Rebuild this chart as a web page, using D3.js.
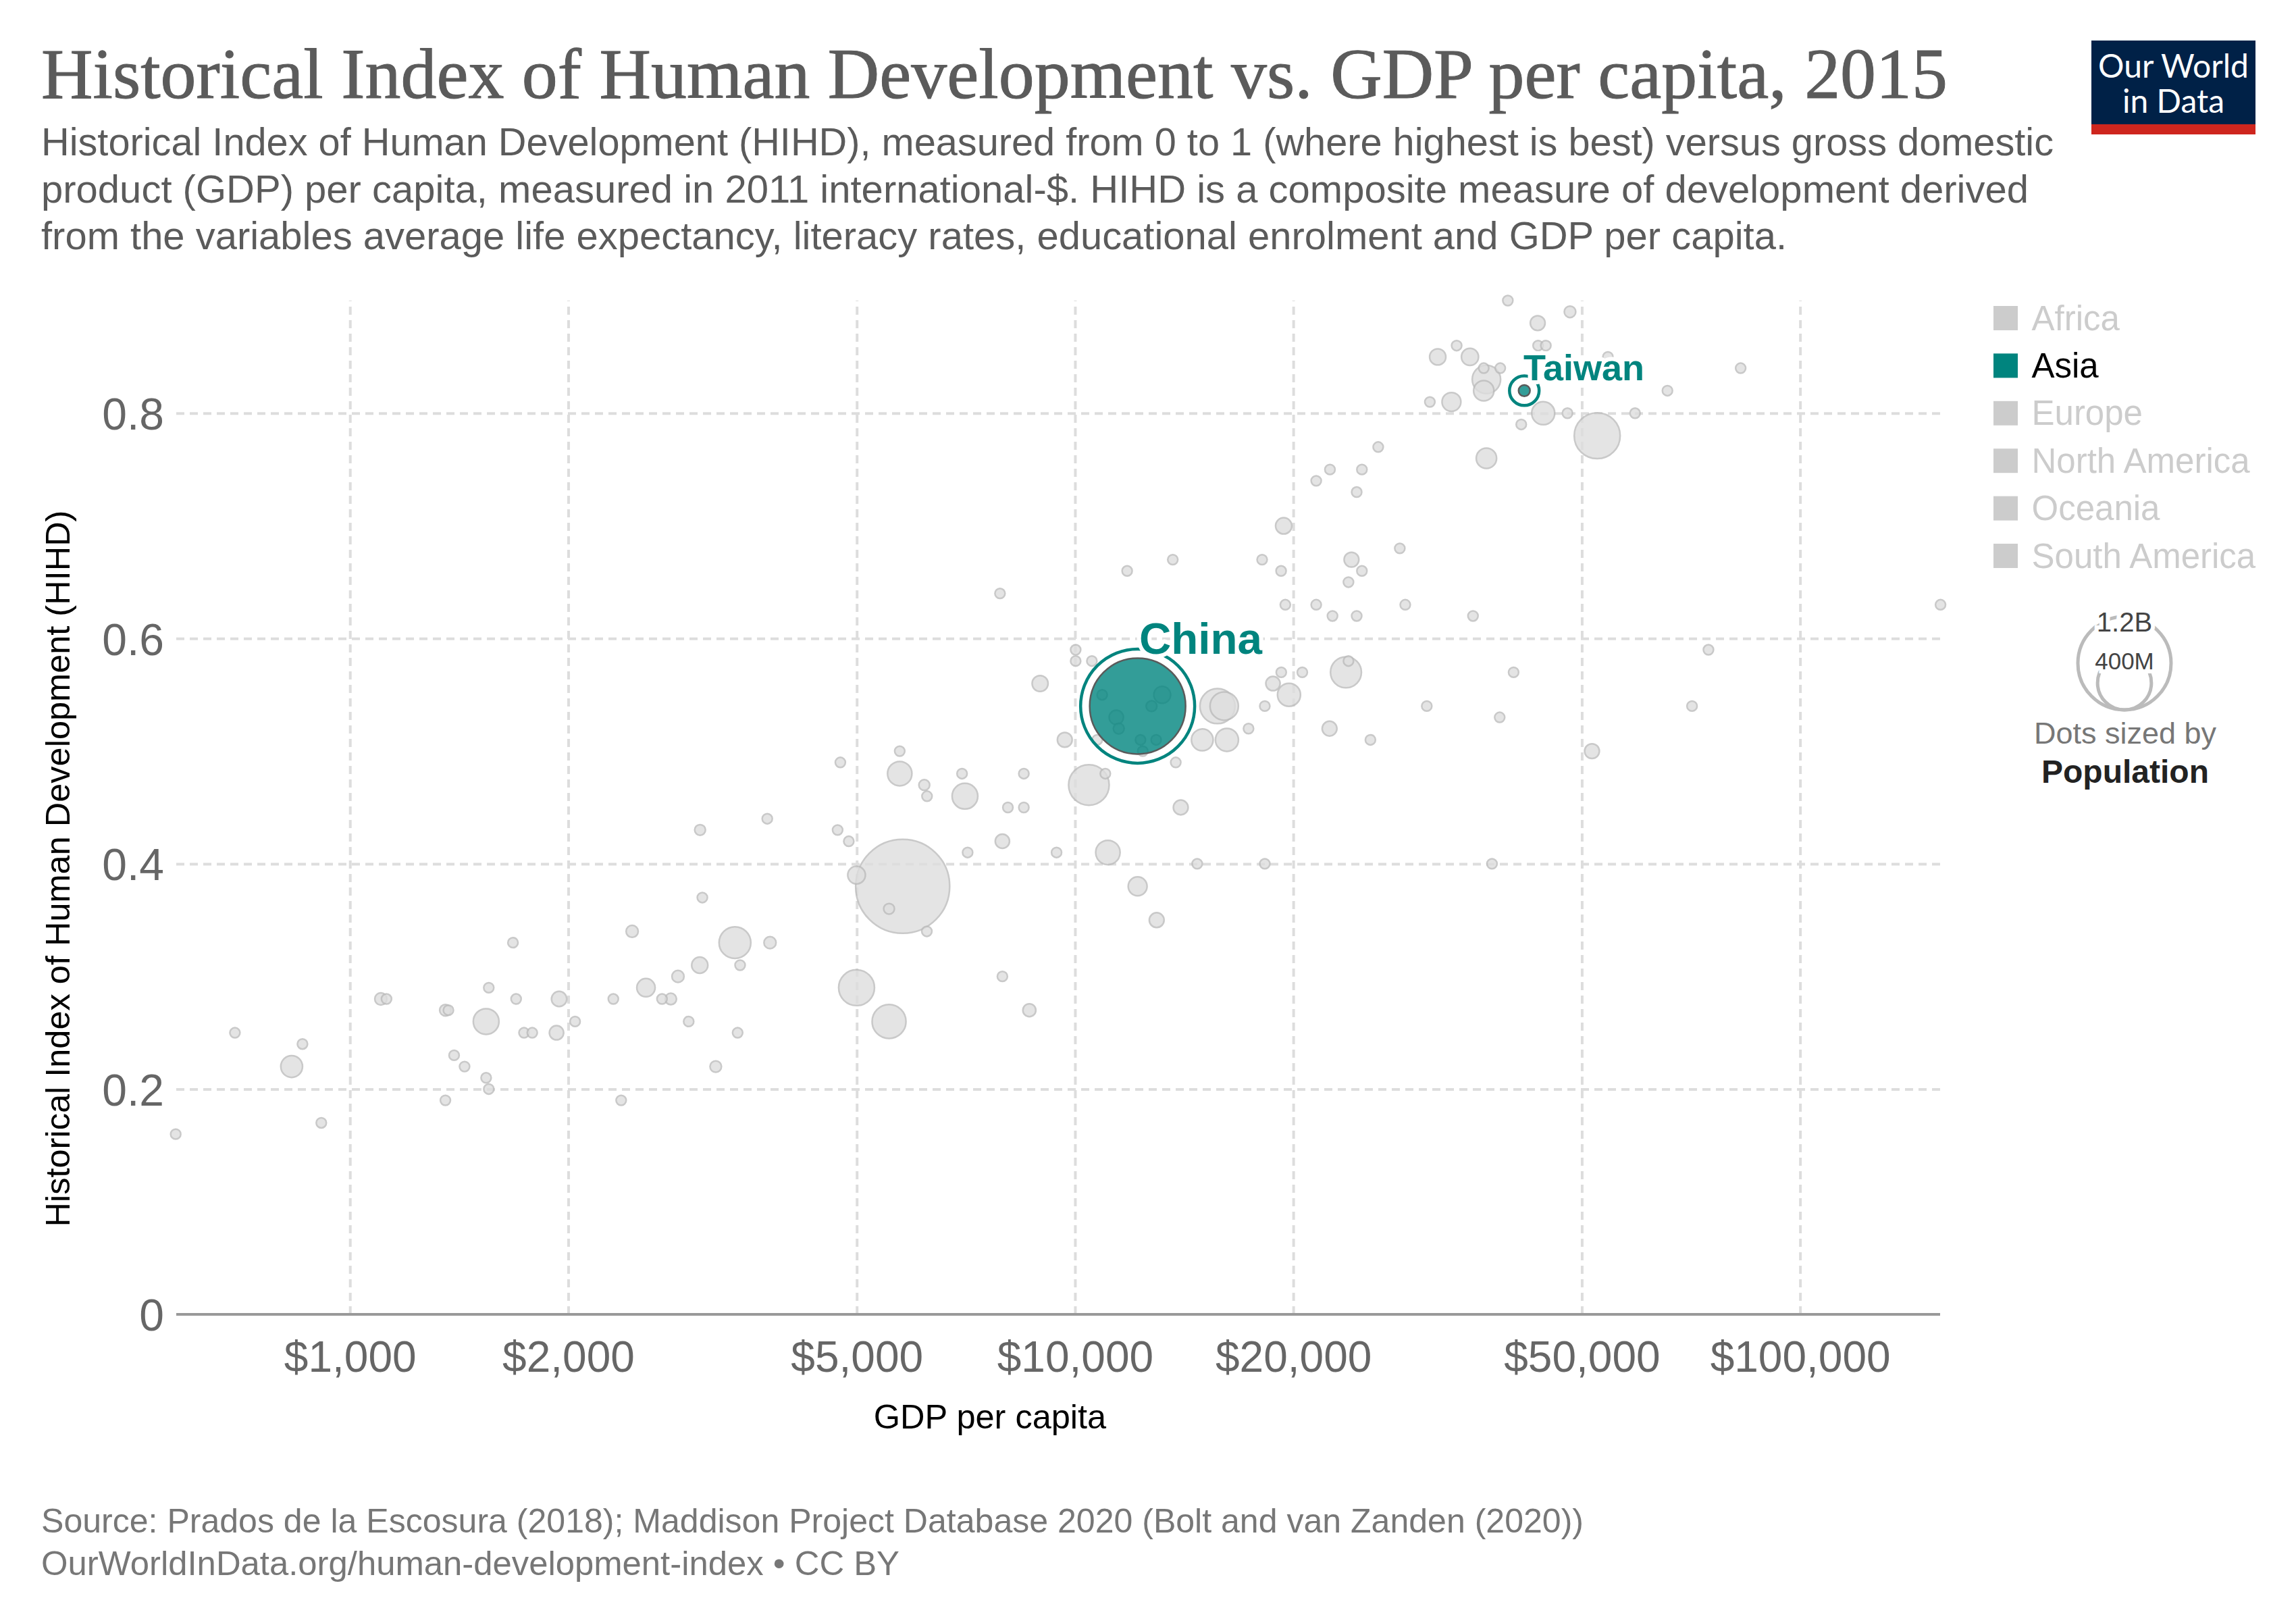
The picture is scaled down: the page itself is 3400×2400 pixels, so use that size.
<!DOCTYPE html>
<html><head><meta charset="utf-8">
<script src="https://cdn.jsdelivr.net/npm/d3@7/dist/d3.min.js"></script>
<style>html,body{margin:0;padding:0;background:#fff}svg{display:block}text{font-family:"Liberation Sans",Arial,sans-serif}</style>
</head><body><svg id="chart" width="3400" height="2400"></svg>
<script>
const titleText = "Historical Index of Human Development vs. GDP per capita, 2015";
const subtitleLines = [
 "Historical Index of Human Development (HIHD), measured from 0 to 1 (where highest is best) versus gross domestic",
 "product (GDP) per capita, measured in 2011 international-$. HIHD is a composite measure of development derived",
 "from the variables average life expectancy, literacy rates, educational enrolment and GDP per capita."];
const subtitleWidths = [2980,2943,2585];
const footerLines = ["Source: Prados de la Escosura (2018); Maddison Project Database 2020 (Bolt and van Zanden (2020))",
 "OurWorldInData.org/human-development-index • CC BY"];
const footerWidths = [2284,1271];
const xLabel = "GDP per capita", yLabel = "Historical Index of Human Development (HIHD)";
const xTicks = [1000,2000,5000,10000,20000,50000,100000];
const yTicks = [0,0.2,0.4,0.6,0.8];
const continents = ["Africa","Asia","Europe","North America","Oceania","South America"];
const activeContinent = "Asia";
const sizeLegendValues = [1200,400];
const sizeLegendLabels = ["1.2B","400M"];

// Highlighted entities
const hiNames = ["China","Taiwan"];
const hiGdp = [12200,41650];
const hiHihd = [0.54,0.82];
const hiPop = [1270,18];

// All other countries (greyed out) — parallel arrays
const gdp = [39530,48160,43460,33600,43520,44600,31640,35050,54320,36620,38590,82800,36930,36620,65620,30860,33050,44230,47770,59210,41250,52500,26190,36930,22470,24870,21510,24460,19400,28050,13640,18115,24060,11800,19240,24870,23830,7880,19500,21510,28540,156200,22650,24460,35390,10020,74750,10020,10550,23830,19250,20580,23640,40260,8950,18750,19730,10900,13190,15720,16060,18270,30560,70950,12750,11400,38520,11490,17350,22440,9680,10730,12310,12940,14980,16200,25550,12400,5731,51640,4746,13770,5731,6985,8500,11010,10450,6196,6250,7050,8080,8500,13990,3763,3040,4705,4875,7940,7110,9430,11100,14740,18270,37590,4997,5785,12200,3062,5540,12960,2450,6246,1678,3396,3796,3037,3452,2834,7940,1554,2560,4997,1103,1123,1695,1943,2308,2694,2770,1354,1367,8650,1541,2044,2932,5540,694,1738,1784,1927,3425,860,1392,831,1439,3195,1541,1554,1354,2366,913,575];
const hihd = [.90,.89,.88,.86,.86,.86,.85,.85,.85,.84,.84,.84,.83,.82,.82,.81,.81,.80,.80,.80,.79,.78,.77,.76,.75,.75,.74,.73,.70,.68,.67,.67,.67,.66,.66,.66,.65,.64,.63,.63,.63,.63,.62,.62,.62,.59,.59,.58,.58,.58,.57,.57,.57,.57,.56,.56,.55,.55,.55,.54,.54,.54,.54,.54,.54,.53,.53,.52,.52,.52,.51,.51,.51,.51,.51,.51,.51,.50,.50,.50,.49,.49,.48,.48,.48,.48,.47,.47,.46,.46,.45,.45,.45,.44,.43,.43,.42,.42,.41,.41,.41,.40,.40,.40,.39,.38,.38,.37,.36,.35,.34,.34,.33,.33,.33,.31,.31,.30,.30,.29,.29,.29,.28,.28,.28,.28,.28,.28,.28,.27,.27,.27,.26,.26,.26,.26,.25,.25,.25,.25,.25,.24,.23,.22,.22,.22,.21,.20,.19,.19,.17,.16];
const population = [14,18,30,14,14,14,36,40,14,14,14,14,111,57,14,14,49,73,14,14,14,291,14,57,14,14,14,14,36,14,14,14,30,14,14,14,14,14,14,14,14,14,14,14,14,14,14,14,14,14,14,14,132,14,35,28,73,14,39,170,111,14,14,14,16,28,14,16,14,30,30,14,14,14,65,73,14,14,14,30,14,14,82,14,14,14,227,16,14,91,14,14,30,14,16,14,14,28,14,14,82,14,14,14,43,1220,49,14,16,30,20,14,14,139,20,36,14,20,14,14,46,177,20,14,14,32,14,14,18,18,14,23,91,14,14,158,14,14,14,28,14,14,14,65,14,18,14,14,14,14,14,14];

const teal = "#00847e", greyFill = "#dedede", greyStroke = "#bcbcbc";
const M = {left:261, right:2873, top:445, bottom:1946};
const svg = d3.select("#chart");
const x = d3.scaleLog().domain([576,156000]).range([M.left,M.right]);
const y = d3.scaleLinear().domain([0,0.9]).range([M.bottom,M.top]);
const r = d3.scaleSqrt().domain([0,1200]).range([0,69]);

// Header
svg.append("text").attr("x",61).attr("y",145).attr("font-size",106).attr("textLength",2823).attr("lengthAdjust","spacingAndGlyphs")
   .style("font-family",'"Liberation Serif",serif').attr("fill","#5b5b5b").attr("stroke","#5b5b5b").attr("stroke-width",1).text(titleText);
svg.selectAll(".sub").data(subtitleLines).join("text").attr("class","sub").attr("x",61).attr("y",(d,i)=>230+i*69.5)
   .attr("font-size",57.5).attr("textLength",(d,i)=>subtitleWidths[i]).attr("lengthAdjust","spacingAndGlyphs").attr("fill","#5b5b5b").text(d=>d);
// Logo
svg.append("rect").attr("x",3097).attr("y",60).attr("width",243).attr("height",139).attr("fill","#002147");
svg.append("rect").attr("x",3097).attr("y",184).attr("width",243).attr("height",15).attr("fill","#ce261e");
svg.selectAll(".logo").data(["Our World","in Data"]).join("text").attr("class","logo").attr("x",3218.5).attr("y",(d,i)=>115+i*52)
   .attr("text-anchor","middle").attr("font-size",48).attr("fill","#fff").style("font-family",'Lato,sans-serif').text(d=>d);

// Axes with gridlines
const xAxis = d3.axisBottom(x).tickValues(xTicks).tickFormat(d3.format("$,d")).tickSize(0);
const gx = svg.append("g").attr("transform",`translate(0,${M.bottom})`).call(xAxis);
gx.select(".domain").remove();
gx.selectAll(".tick line").attr("y1",0).attr("y2",M.top-M.bottom).attr("stroke","#ddd").attr("stroke-width",4).attr("stroke-dasharray","12,8");
gx.selectAll(".tick text").attr("y",85).attr("dy",0).attr("font-size",64).attr("fill","#666").style("font-family",'"Liberation Sans"');
const yAxis = d3.axisLeft(y).tickValues(yTicks).tickFormat(d=>d===0?"0":d3.format(".1f")(d)).tickSize(0);
const gy = svg.append("g").attr("transform",`translate(${M.left},0)`).call(yAxis);
gy.select(".domain").remove();
gy.selectAll(".tick line").attr("x1",0).attr("x2",d=>d===0?0:M.right-M.left).attr("stroke","#ddd").attr("stroke-width",4).attr("stroke-dasharray","12,8");
gy.selectAll(".tick text").attr("x",-18).attr("dy","0.36em").attr("font-size",66).attr("fill","#666").style("font-family",'"Liberation Sans"');
svg.append("line").attr("x1",M.left).attr("x2",M.right).attr("y1",y(0)).attr("y2",y(0)).attr("stroke","#999").attr("stroke-width",4);
svg.append("text").attr("x",1466).attr("y",2115).attr("text-anchor","middle").attr("font-size",50.5).attr("fill","#000").text(xLabel);
svg.append("text").attr("transform","translate(103,1286) rotate(-90)").attr("text-anchor","middle").attr("font-size",50.5).attr("fill","#000").text(yLabel);

// Grey points, largest first
const rows = gdp.map((g,i)=>({g,h:hihd[i],p:population[i]})).sort((a,b)=>b.p-a.p);
svg.append("g").selectAll("circle").data(rows).join("circle")
   .attr("cx",d=>x(d.g)).attr("cy",d=>y(d.h)).attr("r",d=>r(d.p))
   .attr("fill",greyFill).attr("stroke",greyStroke).attr("stroke-width",2.5).attr("opacity",.8);

// Highlights
const hi = hiNames.map((n,i)=>({n,g:hiGdp[i],h:hiHihd[i],p:hiPop[i]}));
const gh = svg.append("g");
gh.selectAll(".ring").data(hi).join("circle").attr("class","ring").attr("cx",d=>x(d.g)).attr("cy",d=>y(d.h)).attr("r",d=>r(d.p)+13.5)
   .attr("fill","none").attr("stroke",teal).attr("stroke-width",4.5);
gh.selectAll(".dot").data(hi).join("circle").attr("class","dot").attr("cx",d=>x(d.g)).attr("cy",d=>y(d.h)).attr("r",d=>r(d.p))
   .attr("fill",teal).attr("fill-opacity",.8).attr("stroke","#5a5a5a").attr("stroke-width",2.5);
const labelPos = {China:{x:1687,base:968,size:65.5},Taiwan:{x:2256,base:563,size:54}};
gh.selectAll(".lab").data(hi).join("text").attr("class","lab")
   .attr("x",d=>labelPos[d.n].x)
   .attr("y",d=>labelPos[d.n].base).attr("font-size",d=>labelPos[d.n].size).attr("font-weight",700)
   .attr("fill",teal).attr("stroke","#fff").attr("stroke-width",12).attr("paint-order","stroke").attr("stroke-linejoin","round").text(d=>d.n);

// Colour legend
const lg = svg.append("g").selectAll("g").data(continents).join("g").attr("transform",(d,i)=>`translate(2952,${453+i*70.4})`);
lg.append("rect").attr("width",36).attr("height",36).attr("fill",d=>d===activeContinent?teal:"#ccc");
lg.append("text").attr("x",56.5).attr("y",35.5).attr("font-size",51).attr("fill",d=>d===activeContinent?"#000":"#ccc").text(d=>d);

// Size legend
const cxS = 3146, bottomS = 1051;
svg.selectAll(".sz").data(sizeLegendValues).join("circle").attr("class","sz").attr("cx",cxS).attr("cy",d=>bottomS-r(d)).attr("r",d=>r(d))
   .attr("fill","none").attr("stroke","#bbb").attr("stroke-width",5);
svg.selectAll(".szl").data(sizeLegendLabels).join("text").attr("class","szl").attr("x",cxS).attr("y",(d,i)=>[935,991][i])
   .attr("text-anchor","middle").attr("font-size",(d,i)=>[40,35][i]).attr("fill","#444").attr("stroke","#fff").attr("stroke-width",12).attr("paint-order","stroke").text(d=>d);
svg.append("text").attr("x",3147).attr("y",1101).attr("text-anchor","middle").attr("font-size",45).attr("fill","#777").text("Dots sized by");
svg.append("text").attr("x",3147).attr("y",1159).attr("text-anchor","middle").attr("font-size",48).attr("font-weight",700).attr("fill","#222").text("Population");

// Footer
svg.selectAll(".foot").data(footerLines).join("text").attr("class","foot").attr("x",61).attr("y",(d,i)=>2269+i*63)
   .attr("font-size",50).attr("textLength",(d,i)=>footerWidths[i]).attr("lengthAdjust","spacingAndGlyphs").attr("fill","#777").text(d=>d);
</script></body></html>
